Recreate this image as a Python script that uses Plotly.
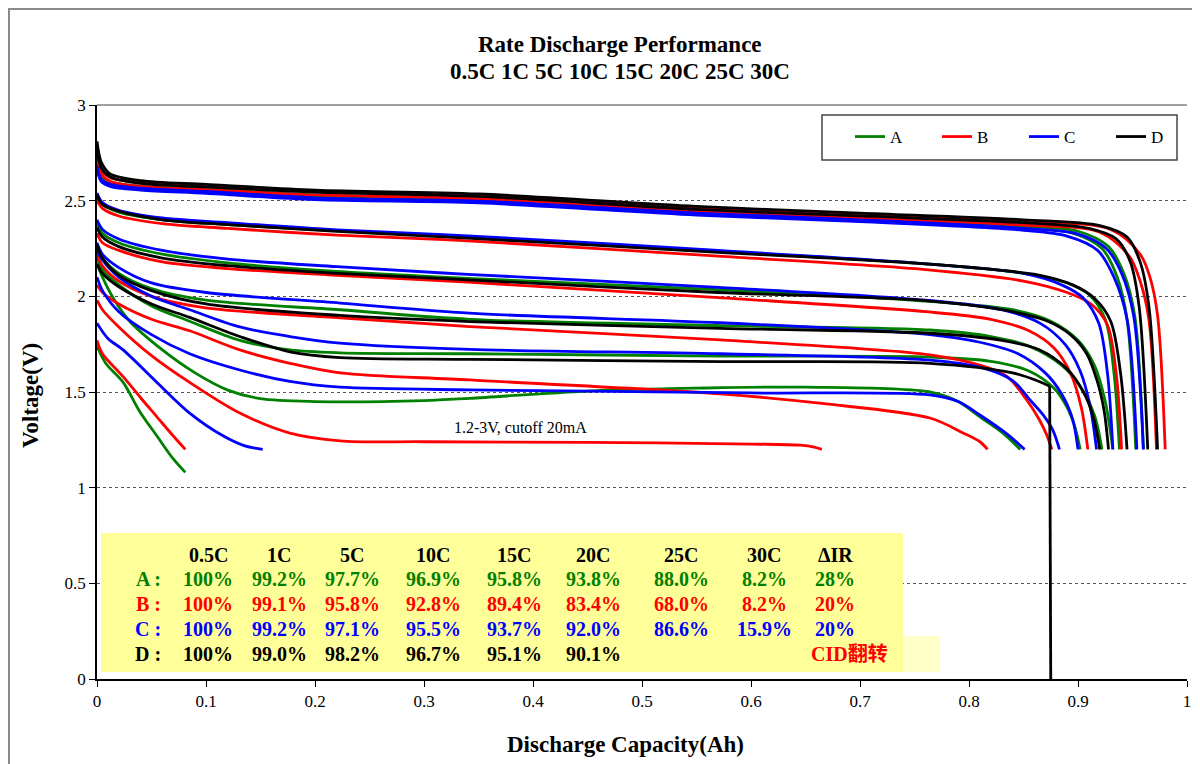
import plotly.graph_objects as go

# ---------------- data ----------------
# A (green)
A_05C_x = [0, 0.004, 0.012, 0.04, 0.1, 0.2, 0.35, 0.55, 0.7, 0.85, 0.9, 0.928, 0.942, 0.952, 0.96]
A_05C_v = [2.72, 2.63, 2.60, 2.575, 2.56, 2.53, 2.51, 2.445, 2.41, 2.37, 2.34, 2.26, 2.12, 1.90, 1.20]
A_1C_x = [0, 0.004, 0.012, 0.04, 0.1, 0.2, 0.35, 0.55, 0.7, 0.85, 0.895, 0.922, 0.936, 0.945, 0.953]
A_1C_v = [2.70, 2.62, 2.59, 2.565, 2.55, 2.52, 2.50, 2.435, 2.40, 2.36, 2.33, 2.25, 2.10, 1.88, 1.20]
A_5C_x = [0, 0.005, 0.02, 0.06, 0.12, 0.22, 0.34, 0.57, 0.76, 0.85, 0.89, 0.91, 0.925, 0.933, 0.938]
A_5C_v = [2.52, 2.48, 2.44, 2.40, 2.375, 2.343, 2.31, 2.235, 2.17, 2.12, 2.07, 2.01, 1.88, 1.60, 1.20]
A_10C_x = [0, 0.005, 0.02, 0.06, 0.12, 0.22, 0.34, 0.57, 0.76, 0.84, 0.875, 0.9, 0.915, 0.925, 0.932]
A_10C_v = [2.38, 2.33, 2.28, 2.22, 2.175, 2.13, 2.094, 2.035, 1.975, 1.93, 1.87, 1.77, 1.64, 1.45, 1.20]
A_15C_x = [0, 0.005, 0.02, 0.05, 0.1, 0.223, 0.342, 0.572, 0.764, 0.82, 0.855, 0.885, 0.903, 0.915, 0.922]
A_15C_v = [2.26, 2.20, 2.12, 2.04, 1.98, 1.93, 1.88, 1.847, 1.824, 1.79, 1.74, 1.64, 1.52, 1.38, 1.20]
A_20C_x = [0, 0.005, 0.02, 0.05, 0.085, 0.131, 0.177, 0.223, 0.342, 0.572, 0.764, 0.82, 0.855, 0.878, 0.89, 0.897, 0.902]
A_20C_v = [2.20, 2.14, 2.06, 1.95, 1.87, 1.77, 1.72, 1.705, 1.70, 1.688, 1.683, 1.66, 1.61, 1.52, 1.42, 1.32, 1.20]
A_25C_x = [0, 0.005, 0.015, 0.03, 0.06, 0.09, 0.12, 0.15, 0.2, 0.3, 0.342, 0.45, 0.55, 0.65, 0.764, 0.79, 0.81, 0.83, 0.847]
A_25C_v = [2.17, 2.10, 1.99, 1.87, 1.72, 1.60, 1.51, 1.465, 1.45, 1.455, 1.467, 1.505, 1.52, 1.525, 1.50, 1.45, 1.37, 1.29, 1.20]
A_30C_x = [0, 0.008, 0.024, 0.039, 0.055, 0.07, 0.081]
A_30C_v = [1.74, 1.65, 1.55, 1.40, 1.27, 1.15, 1.08]

# B (red)
B_05C_x = [0, 0.004, 0.012, 0.04, 0.1, 0.2, 0.35, 0.55, 0.7, 0.85, 0.93, 0.957, 0.966, 0.973, 0.98]
B_05C_v = [2.76, 2.66, 2.62, 2.595, 2.578, 2.55, 2.53, 2.463, 2.428, 2.39, 2.35, 2.22, 2.10, 1.90, 1.20]
B_1C_x = [0, 0.004, 0.012, 0.04, 0.1, 0.2, 0.35, 0.55, 0.7, 0.85, 0.92, 0.947, 0.957, 0.965, 0.972]
B_1C_v = [2.74, 2.64, 2.60, 2.575, 2.558, 2.53, 2.51, 2.445, 2.41, 2.372, 2.335, 2.21, 2.08, 1.88, 1.20]
B_5C_x = [0, 0.005, 0.02, 0.06, 0.12, 0.22, 0.34, 0.57, 0.76, 0.85, 0.89, 0.912, 0.927, 0.935, 0.940]
B_5C_v = [2.50, 2.46, 2.42, 2.38, 2.355, 2.32, 2.29, 2.21, 2.14, 2.08, 2.02, 1.96, 1.85, 1.60, 1.20]
B_10C_x = [0, 0.005, 0.02, 0.06, 0.12, 0.22, 0.34, 0.57, 0.76, 0.82, 0.855, 0.878, 0.893, 0.903, 0.909]
B_10C_v = [2.33, 2.28, 2.24, 2.18, 2.145, 2.11, 2.074, 1.993, 1.92, 1.88, 1.82, 1.73, 1.60, 1.42, 1.20]
B_15C_x = [0, 0.005, 0.02, 0.05, 0.1, 0.223, 0.342, 0.572, 0.764, 0.81, 0.835, 0.853, 0.864, 0.871, 0.876]
B_15C_v = [2.22, 2.16, 2.08, 2.00, 1.94, 1.888, 1.842, 1.772, 1.694, 1.64, 1.58, 1.458, 1.36, 1.28, 1.20]
B_20C_x = [0, 0.005, 0.02, 0.05, 0.085, 0.131, 0.177, 0.223, 0.342, 0.572, 0.665, 0.764, 0.795, 0.81, 0.817]
B_20C_v = [2.06, 2.02, 1.96, 1.88, 1.82, 1.72, 1.65, 1.60, 1.563, 1.49, 1.44, 1.364, 1.285, 1.24, 1.20]
B_25C_x = [0, 0.005, 0.02, 0.05, 0.085, 0.131, 0.177, 0.223, 0.3, 0.45, 0.6, 0.645, 0.658, 0.665]
B_25C_v = [1.98, 1.93, 1.84, 1.69, 1.55, 1.39, 1.285, 1.245, 1.24, 1.237, 1.228, 1.222, 1.212, 1.20]
B_30C_x = [0, 0.005, 0.024, 0.04, 0.055, 0.07, 0.081]
B_30C_v = [1.77, 1.70, 1.58, 1.47, 1.37, 1.27, 1.20]

# C (blue)
C_05C_x = [0, 0.004, 0.012, 0.04, 0.1, 0.2, 0.35, 0.55, 0.7, 0.85, 0.9, 0.926, 0.94, 0.951, 0.96]
C_05C_v = [2.68, 2.61, 2.585, 2.565, 2.548, 2.515, 2.498, 2.435, 2.40, 2.355, 2.325, 2.25, 2.12, 1.90, 1.20]
C_1C_x = [0, 0.004, 0.012, 0.04, 0.1, 0.2, 0.35, 0.55, 0.7, 0.85, 0.89, 0.918, 0.933, 0.945, 0.954]
C_1C_v = [2.66, 2.60, 2.575, 2.555, 2.538, 2.505, 2.488, 2.425, 2.39, 2.345, 2.315, 2.24, 2.10, 1.88, 1.20]
C_5C_x = [0, 0.005, 0.02, 0.06, 0.12, 0.22, 0.34, 0.57, 0.76, 0.85, 0.885, 0.905, 0.919, 0.927, 0.932]
C_5C_v = [2.54, 2.49, 2.45, 2.41, 2.385, 2.347, 2.316, 2.24, 2.17, 2.12, 2.06, 1.99, 1.86, 1.60, 1.20]
C_10C_x = [0, 0.005, 0.02, 0.06, 0.12, 0.22, 0.34, 0.57, 0.76, 0.83, 0.865, 0.888, 0.902, 0.911, 0.917]
C_10C_v = [2.40, 2.35, 2.30, 2.24, 2.195, 2.155, 2.115, 2.047, 1.98, 1.93, 1.86, 1.75, 1.61, 1.43, 1.20]
C_15C_x = [0, 0.005, 0.02, 0.05, 0.1, 0.223, 0.342, 0.572, 0.764, 0.81, 0.845, 0.87, 0.885, 0.895, 0.90]
C_15C_v = [2.28, 2.22, 2.15, 2.07, 2.02, 1.965, 1.912, 1.862, 1.80, 1.76, 1.70, 1.60, 1.49, 1.36, 1.20]
C_20C_x = [0, 0.005, 0.02, 0.05, 0.085, 0.131, 0.177, 0.223, 0.342, 0.572, 0.764, 0.81, 0.84, 0.856, 0.868, 0.877, 0.883]
C_20C_v = [2.24, 2.19, 2.10, 2.00, 1.93, 1.84, 1.79, 1.756, 1.723, 1.70, 1.667, 1.63, 1.56, 1.458, 1.38, 1.30, 1.20]
C_25C_x = [0, 0.005, 0.02, 0.05, 0.085, 0.131, 0.177, 0.223, 0.342, 0.45, 0.6, 0.764, 0.79, 0.81, 0.835, 0.851]
C_25C_v = [2.10, 2.03, 1.92, 1.80, 1.70, 1.615, 1.555, 1.525, 1.511, 1.505, 1.495, 1.485, 1.45, 1.38, 1.28, 1.20]
C_30C_x = [0, 0.01, 0.024, 0.055, 0.085, 0.116, 0.135, 0.152]
C_30C_v = [1.86, 1.78, 1.72, 1.55, 1.39, 1.27, 1.22, 1.20]

# D (black)
D_05C_x = [0, 0.004, 0.012, 0.04, 0.1, 0.2, 0.35, 0.55, 0.7, 0.85, 0.92, 0.945, 0.957, 0.965, 0.973]
D_05C_v = [2.81, 2.70, 2.64, 2.605, 2.585, 2.555, 2.535, 2.47, 2.435, 2.40, 2.37, 2.31, 2.18, 1.95, 1.20]
D_1C_x = [0, 0.004, 0.012, 0.04, 0.1, 0.2, 0.35, 0.55, 0.7, 0.85, 0.91, 0.935, 0.948, 0.956, 0.964]
D_1C_v = [2.78, 2.67, 2.625, 2.59, 2.572, 2.545, 2.522, 2.455, 2.42, 2.385, 2.355, 2.30, 2.18, 1.95, 1.20]
D_5C_x = [0, 0.005, 0.02, 0.06, 0.12, 0.22, 0.34, 0.57, 0.76, 0.865, 0.895, 0.915, 0.93, 0.939, 0.945]
D_5C_v = [2.53, 2.48, 2.445, 2.40, 2.375, 2.34, 2.304, 2.23, 2.17, 2.11, 2.06, 1.99, 1.87, 1.60, 1.20]
D_10C_x = [0, 0.005, 0.02, 0.06, 0.12, 0.22, 0.34, 0.57, 0.76, 0.83, 0.87, 0.893, 0.908, 0.918, 0.924, 0.928]
D_10C_v = [2.36, 2.31, 2.26, 2.20, 2.16, 2.12, 2.086, 2.02, 1.978, 1.93, 1.875, 1.80, 1.70, 1.55, 1.40, 1.20]
D_15C_x = [0, 0.005, 0.02, 0.05, 0.1, 0.223, 0.342, 0.572, 0.764, 0.83, 0.865, 0.89, 0.905, 0.914, 0.92]
D_15C_v = [2.27, 2.20, 2.11, 2.03, 1.96, 1.90, 1.868, 1.833, 1.807, 1.77, 1.72, 1.62, 1.50, 1.37, 1.20]
D_20C_x = [0, 0.005, 0.02, 0.05, 0.085, 0.131, 0.177, 0.223, 0.342, 0.572, 0.764, 0.84, 0.862, 0.874]
D_20C_v = [2.17, 2.12, 2.05, 1.96, 1.89, 1.79, 1.71, 1.68, 1.671, 1.659, 1.65, 1.60, 1.56, 1.53]
D_20C_cid_x = [0.874, 0.875]
D_20C_cid_v = [1.53, 0.0]

# table
table_header = ["0.5C", "1C", "5C", "10C", "15C", "20C", "25C", "30C", "ΔIR"]
row_labels = ["A :", "B :", "C :", "D :"]
A_pct = ["100%", "99.2%", "97.7%", "96.9%", "95.8%", "93.8%", "88.0%", "8.2%", "28%"]
B_pct = ["100%", "99.1%", "95.8%", "92.8%", "89.4%", "83.4%", "68.0%", "8.2%", "20%"]
C_pct = ["100%", "99.2%", "97.1%", "95.5%", "93.7%", "92.0%", "86.6%", "15.9%", "20%"]
D_pct = ["100%", "99.0%", "98.2%", "96.7%", "95.1%", "90.1%"]
D_note = "CID翻转"

x_ticks = [0, 0.1, 0.2, 0.3, 0.4, 0.5, 0.6, 0.7, 0.8, 0.9, 1]
x_tick_text = ["0", "0.1", "0.2", "0.3", "0.4", "0.5", "0.6", "0.7", "0.8", "0.9", "1"]
y_ticks = [0, 0.5, 1, 1.5, 2, 2.5, 3]
y_tick_text = ["0", "0.5", "1", "1.5", "2", "2.5", "3"]

# ---------------- style ----------------
SERIF = "Liberation Serif, Times New Roman, serif"
CJK = "Liberation Serif, Noto Sans CJK SC, serif"
colors = {"A": "#008000", "B": "#FF0000", "C": "#0000FF", "D": "#000000"}

curves = {
    "A": [(A_05C_x, A_05C_v), (A_1C_x, A_1C_v), (A_5C_x, A_5C_v), (A_10C_x, A_10C_v),
          (A_15C_x, A_15C_v), (A_20C_x, A_20C_v), (A_25C_x, A_25C_v), (A_30C_x, A_30C_v)],
    "B": [(B_05C_x, B_05C_v), (B_1C_x, B_1C_v), (B_5C_x, B_5C_v), (B_10C_x, B_10C_v),
          (B_15C_x, B_15C_v), (B_20C_x, B_20C_v), (B_25C_x, B_25C_v), (B_30C_x, B_30C_v)],
    "C": [(C_05C_x, C_05C_v), (C_1C_x, C_1C_v), (C_5C_x, C_5C_v), (C_10C_x, C_10C_v),
          (C_15C_x, C_15C_v), (C_20C_x, C_20C_v), (C_25C_x, C_25C_v), (C_30C_x, C_30C_v)],
    "D": [(D_05C_x, D_05C_v), (D_1C_x, D_1C_v), (D_5C_x, D_5C_v), (D_10C_x, D_10C_v),
          (D_15C_x, D_15C_v), (D_20C_x, D_20C_v)],
}

# page has an 8px body margin; figure is placed at (8, 8)
OFF = 8
W, H = 1192, 756
PL, PR, PT, PB = 97, 1187, 105, 679          # plot box in page pixels
L, R, T, B = PL - OFF, W - (PR - OFF), PT - OFF, H - (PB - OFF)
PW, PH = PR - PL, PB - PT


def X(px):
    return (px - PL) / PW


def Y(py):
    return (PB - py) / PH


def label(text, px, py, size, color="black", family=SERIF, bold=True, angle=0):
    return dict(text=text, x=X(px), y=Y(py), xref="paper", yref="paper",
                xanchor="center", yanchor="middle", showarrow=False, textangle=angle,
                font=dict(family=family, size=size, color=color,
                          weight="bold" if bold else "normal"))


fig = go.Figure()
LW = 2.8
for rank, cell in enumerate(["A", "B", "C", "D"]):
    for i, (xs, vs) in enumerate(curves[cell]):
        fig.add_trace(go.Scatter(
            x=xs, y=vs, mode="lines", name=cell, legendgroup=cell,
            showlegend=(i == 0), legendrank=rank + 1,
            line=dict(color=colors[cell], width=LW, shape="spline", smoothing=0.9),
            hoverinfo="skip"))
fig.add_trace(go.Scatter(
    x=D_20C_cid_x, y=D_20C_cid_v, mode="lines", name="D", legendgroup="D",
    showlegend=False, line=dict(color=colors["D"], width=LW), hoverinfo="skip"))

shapes = []
# outer frame
shapes.append(dict(type="rect", xref="paper", yref="paper",
                   x0=X(9), x1=X(1196), y0=Y(790), y1=Y(9),
                   line=dict(color="#8a8a8a", width=2), layer="below"))
# top line of plot at 3 V
shapes.append(dict(type="line", xref="paper", yref="paper", x0=0, x1=1, y0=1, y1=1,
                   line=dict(color="#a0a0a0", width=2), layer="below"))
# legend box
shapes.append(dict(type="rect", xref="paper", yref="paper",
                   x0=X(822), x1=X(1177), y0=Y(160), y1=Y(115),
                   line=dict(color="#444", width=1.5), fillcolor="white", layer="above"))
# yellow table
shapes.append(dict(type="rect", xref="paper", yref="paper",
                   x0=X(640), x1=X(940), y0=Y(672), y1=Y(636),
                   line=dict(width=0), fillcolor="#FFFFC8", layer="above"))
shapes.append(dict(type="rect", xref="paper", yref="paper",
                   x0=X(101), x1=X(903), y0=Y(672), y1=Y(533),
                   line=dict(width=0), fillcolor="#FFFF99", layer="above"))

ann = []
ann.append(label("Rate Discharge Performance", 620, 44, 23))
ann.append(label("0.5C 1C 5C 10C 15C 20C 25C 30C", 620, 72, 23))
ann.append(label("Discharge Capacity(Ah)", 625, 744, 23))
ann.append(label("Voltage(V)", 31, 396, 23, angle=-90))
ann.append(label("1.2-3V, cutoff 20mA", 520, 427, 16, bold=False))

col_px = [208, 279, 352, 433, 514, 593, 681, 764, 835]
row_py = [579, 604, 629, 654]
header_py = 555
label_px = 148
for cx, t in zip(col_px, table_header):
    ann.append(label(t, cx, header_py, 20))
rows = [A_pct, B_pct, C_pct, D_pct]
for cell, lab, vals, ry in zip(["A", "B", "C", "D"], row_labels, rows, row_py):
    ann.append(label(lab, label_px, ry, 20, color=colors[cell]))
    for cx, t in zip(col_px, vals):
        ann.append(label(t, cx, ry, 20, color=colors[cell]))
ann.append(label(D_note, 849, row_py[3], 20, color="#FF0000", family=CJK))

fig.update_layout(
    width=W, height=H, margin=dict(l=L, r=R, t=T, b=B, autoexpand=False),
    paper_bgcolor="white", plot_bgcolor="white",
    shapes=shapes, annotations=ann,
    showlegend=True,
    legend=dict(orientation="h", x=X(850), y=Y(137), xanchor="left", yanchor="middle",
                entrywidth=42, entrywidthmode="pixels", bgcolor="rgba(0,0,0,0)",
                font=dict(family=SERIF, size=17, color="black"), itemclick=False,
                itemdoubleclick=False),
    xaxis=dict(range=[0, 1], tickvals=x_ticks, ticktext=x_tick_text, showgrid=False,
               zeroline=False, showline=True, linecolor="black", linewidth=1.5,
               ticks="outside", ticklen=6, tickcolor="black", automargin=False,
               tickfont=dict(family=SERIF, size=17, color="black")),
    yaxis=dict(range=[0, 3], tickvals=y_ticks, ticktext=y_tick_text, showgrid=True,
               gridcolor="#555", griddash="dot", gridwidth=1, automargin=False,
               zeroline=False, showline=True, linecolor="black", linewidth=1.5,
               ticks="outside", ticklen=6, tickcolor="black",
               tickfont=dict(family=SERIF, size=17, color="black")),
)

fig.write_html("out.html")
